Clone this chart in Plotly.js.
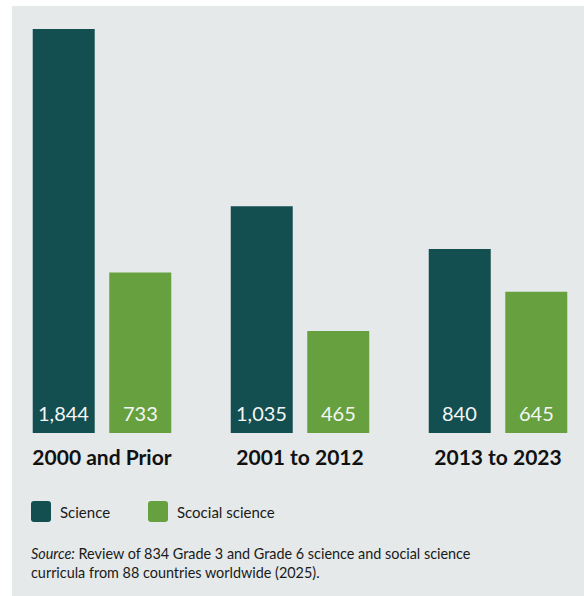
<!DOCTYPE html>
<html>
<head>
<meta charset="utf-8">
<script src="https://cdn.plot.ly/plotly-3.0.1.min.js"></script>
<style>
  html, body { margin: 0; padding: 0; background: #ffffff; }
  #chart { position: absolute; left: 12px; top: 6px; width: 572px; height: 590px; }
</style>
</head>
<body>
<div id="chart"></div>
<script>
// ---- data ----
const categories = ["2000 and Prior", "2001 to 2012", "2013 to 2023"];
const scienceValues = [1844, 1035, 840];
const socialValues = [733, 465, 645];
const seriesNames = ["Science", "Scocial science"];
const sourceLabel = "Source:";
const sourceText = "Review of 834 Grade 3 and Grade 6 science and social science<br>curricula from 88 countries worldwide (2025).";

// ---- style ----
const COL_SCI = "#134e50";
const COL_SOC = "#67a03f";
const BG = "#e5e9e9";
const FONT = "Lato, 'Open Sans', sans-serif";

const W = 572, H = 590, ML = 0, MR = 0, MT = 0, MB = 163;
const plotH = H - MT - MB;
// page -> paper helpers (div is offset 12,6 on the page)
const px = x => (x - 12 - ML) / (W - ML - MR);
const py = y => (plotH - (y - 6 - MT)) / plotH;

const traces = [
  { type: "bar", name: seriesNames[0], x: categories, y: scienceValues,
    marker: { color: COL_SCI }, hoverinfo: "none", showlegend: false },
  { type: "bar", name: seriesNames[1], x: categories, y: socialValues,
    marker: { color: COL_SOC }, hoverinfo: "none", showlegend: false }
];

const annotations = [];
const slotShift = 38.25;
[scienceValues, socialValues].forEach((vals, s) => {
  vals.forEach((v, i) => {
    annotations.push({
      x: categories[i], xref: "x", y: 0, yref: "y",
      xshift: s === 0 ? -slotShift : slotShift, yshift: 6,
      yanchor: "bottom", xanchor: "center", showarrow: false,
      text: v.toLocaleString("en-US"),
      font: { family: FONT, size: 20, color: "#f4f6f4" }
    });
  });
});

// legend (custom, rounded squares)
function roundRect(x0, y0, x1, y1, r) {
  const X = px, Y = py;
  return `M ${X(x0 + r)},${Y(y0)} L ${X(x1 - r)},${Y(y0)} Q ${X(x1)},${Y(y0)} ${X(x1)},${Y(y0 + r)} ` +
         `L ${X(x1)},${Y(y1 - r)} Q ${X(x1)},${Y(y1)} ${X(x1 - r)},${Y(y1)} ` +
         `L ${X(x0 + r)},${Y(y1)} Q ${X(x0)},${Y(y1)} ${X(x0)},${Y(y1 - r)} ` +
         `L ${X(x0)},${Y(y0 + r)} Q ${X(x0)},${Y(y0)} ${X(x0 + r)},${Y(y0)} Z`;
}
const legendItems = [
  { sx: 31, tx: 58, color: COL_SCI, name: seriesNames[0] },
  { sx: 148, tx: 175, color: COL_SOC, name: seriesNames[1] }
];
const shapes = [];
legendItems.forEach(it => {
  shapes.push({ type: "path", xref: "paper", yref: "paper",
    path: roundRect(it.sx, 501, it.sx + 20, 522, 3),
    fillcolor: it.color, line: { width: 0 } });
  annotations.push({ xref: "paper", yref: "paper", x: px(it.tx), y: py(511.5),
    xanchor: "left", yanchor: "middle", showarrow: false, text: it.name,
    font: { family: FONT, size: 15, color: "#1a1a1a" } });
});

annotations.push({
  xref: "paper", yref: "paper", x: px(29), y: py(543), xanchor: "left", yanchor: "top",
  align: "left", showarrow: false,
  text: "<i>" + sourceLabel + "</i> " + sourceText,
  font: { family: FONT, size: 14.4, color: "#1a1a1a" }
});

const layout = {
  width: W, height: H,
  margin: { l: ML, r: MR, t: MT, b: MB, pad: 0 },
  paper_bgcolor: BG, plot_bgcolor: BG,
  barmode: "group", bargap: 0.227, bargroupgap: 0.19,
  showlegend: false,
  xaxis: {
    type: "category", range: [-0.4545, 2.4343], fixedrange: true,
    showgrid: false, zeroline: false, showline: false, ticks: "",
    ticklabelstandoff: 10,
    tickfont: { family: FONT, size: 21, color: "#111111", weight: "bold" }
  },
  yaxis: {
    range: [0, 1949], visible: false, showgrid: false, zeroline: false, fixedrange: true
  },
  annotations: annotations,
  shapes: shapes,
  font: { family: FONT }
};

Plotly.newPlot("chart", traces, layout, { staticPlot: true, displayModeBar: false });
</script>
</body>
</html>
